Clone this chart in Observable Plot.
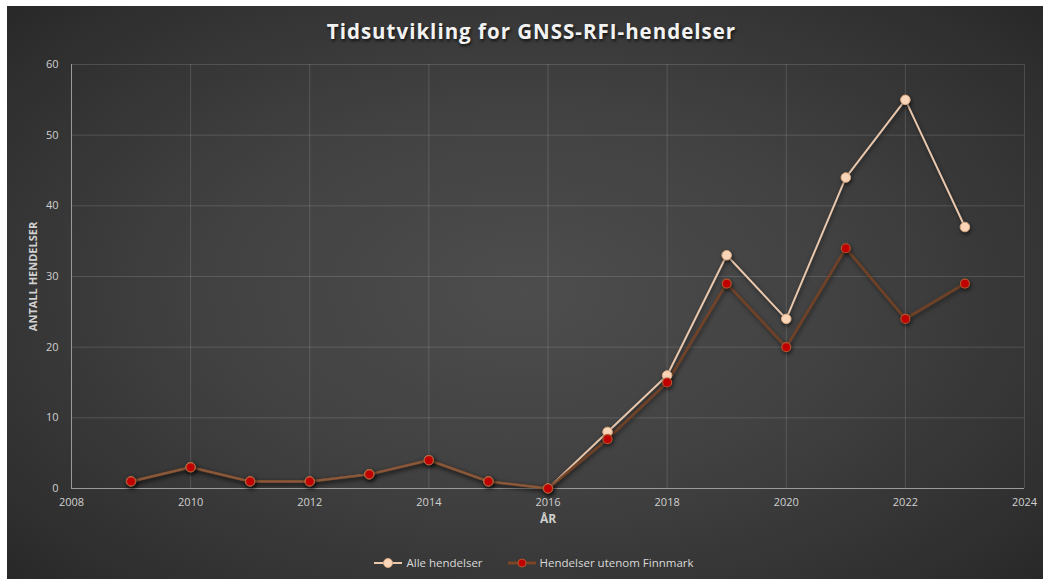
<!DOCTYPE html>
<html>
<head>
<meta charset="utf-8">
<script src="https://cdn.jsdelivr.net/npm/d3@7"></script>
<script src="https://cdn.jsdelivr.net/npm/@observablehq/plot@0.6"></script>
<style>
  html, body { margin: 0; padding: 0; background: #fff; }
  body { width: 1043px; height: 579px; overflow: hidden; position: relative; font-family: "Open Sans", sans-serif; }
  #bg { position: absolute; left: 7px; top: 6px; width: 1036px; height: 573px;
        background: radial-gradient(ellipse 70% 75% at 50% 50%, #4d4d4d 0%, #414141 45%, #2f2f2f 85%, #272727 100%); }
  #title { position: absolute; left: 10px; width: 1043px; top: 17px; text-align: center; color: #f2f2f2;
           font-size: 20.5px; font-weight: 700; letter-spacing: 1px; text-shadow: 1px 2px 3px rgba(0,0,0,0.7); }
  #chart { position: absolute; left: 0; top: 50px; }
  #chart .series { filter: drop-shadow(1px 2px 2px rgba(0,0,0,0.55)); }
  #legend { position: absolute; left: 12px; width: 1043px; top: 555px; display: flex; justify-content: center; gap: 24px;
            color: #d9d9d9; font-size: 11.5px; }
  #legend .item { display: flex; align-items: center; gap: 3px; }
</style>
</head>
<body>
<div id="bg"></div>
<div id="title">Tidsutvikling for GNSS-RFI-hendelser</div>
<div id="chart"></div>
<div id="legend"></div>
<script>
const years = [2009, 2010, 2011, 2012, 2013, 2014, 2015, 2016, 2017, 2018, 2019, 2020, 2021, 2022, 2023];
const alleHendelser = [1, 3, 1, 1, 2, 4, 1, 0, 8, 16, 33, 24, 44, 55, 37];
const utenomFinnmark = [1, 3, 1, 1, 2, 4, 1, 0, 7, 15, 29, 20, 34, 24, 29];
const seriesNames = ["Alle hendelser", "Hendelser utenom Finnmark"];
const xTicks = [2008, 2010, 2012, 2014, 2016, 2018, 2020, 2022, 2024];
const yTicks = [0, 10, 20, 30, 40, 50, 60];
const xLabel = "ÅR";
const yLabel = "ANTALL HENDELSER";

const alle = years.map((y, i) => ({year: y, value: alleHendelser[i]}));
const uten = years.map((y, i) => ({year: y, value: utenomFinnmark[i]}));

const peachLine = "#e8c7ad", peachFill = "#fbd5b8", peachStroke = "#d9a982";
const brownLine = "#7b4526", redFill = "#c00000", redStroke = "#b4552d";

const chart = Plot.plot({
  width: 1043, height: 480,
  marginLeft: 71, marginRight: 19, marginTop: 14, marginBottom: 42,
  style: {background: "transparent", color: "#d0d0d0", fontFamily: "Open Sans, sans-serif", fontSize: "11px"},
  x: {domain: [2008, 2024], label: null},
  y: {domain: [0, 60], label: null},
  marks: [
    Plot.gridX(xTicks, {stroke: "#ffffff", strokeOpacity: 0.14}),
    Plot.gridY(yTicks, {stroke: "#ffffff", strokeOpacity: 0.14}),
    Plot.ruleX([2008], {stroke: "#9a9a9a", strokeWidth: 1}),
    Plot.ruleY([0], {stroke: "#9a9a9a", strokeWidth: 1}),
    Plot.axisX(xTicks, {tickSize: 0, tickPadding: 10, tickFormat: "d", label: null}),
    Plot.axisY(yTicks, {tickSize: 0, tickPadding: 13, label: null}),
    Plot.text([xLabel], {frameAnchor: "bottom", lineAnchor: "middle", textAnchor: "middle", dy: 31, text: d => d, fill: "#d0d0d0", fontWeight: "bold", fontSize: 12}),
    Plot.text([yLabel], {frameAnchor: "left", textAnchor: "middle", lineAnchor: "middle", dx: -38, rotate: -90, text: d => d, fill: "#d0d0d0", fontWeight: "bold", fontSize: 11}),
    Plot.line(alle, {x: "year", y: "value", stroke: peachLine, strokeWidth: 2, className: "series"}),
    Plot.line(uten, {x: "year", y: "value", stroke: brownLine, strokeWidth: 3, strokeOpacity: 0.8, className: "series"}),
    Plot.dot(alle, {x: "year", y: "value", r: 4.8, fill: peachFill, stroke: peachStroke, strokeWidth: 1, className: "series"}),
    Plot.dot(uten, {x: "year", y: "value", r: 4.5, fill: redFill, stroke: redStroke, strokeWidth: 1.2, className: "series"})
  ]
});
document.getElementById("chart").append(chart);

const legend = document.getElementById("legend");
const swatches = [
  {line: peachLine, w: 2, fill: peachFill, stroke: peachStroke, r: 4.5},
  {line: brownLine, w: 3, fill: redFill, stroke: redStroke, r: 4}
];
seriesNames.forEach((name, i) => {
  const s = swatches[i];
  const item = document.createElement("div");
  item.className = "item";
  item.innerHTML = `<svg width="30" height="12"><line x1="1" x2="29" y1="6" y2="6" stroke="${s.line}" stroke-width="${s.w}"/><circle cx="15" cy="6" r="${s.r}" fill="${s.fill}" stroke="${s.stroke}"/></svg><span>${name}</span>`;
  legend.append(item);
});
</script>
</body>
</html>
